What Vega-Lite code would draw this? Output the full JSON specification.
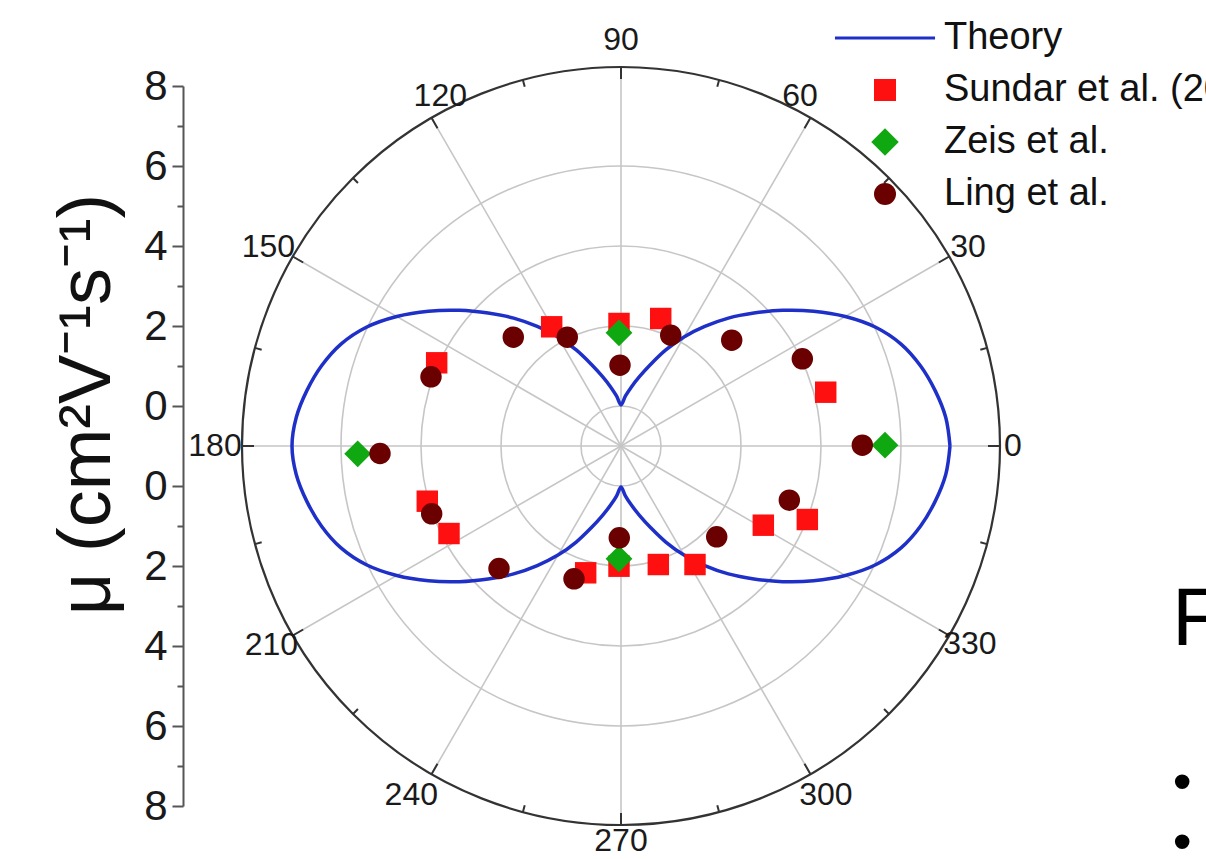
{
  "$schema": "https://vega.github.io/schema/vega-lite/v6.json",
  "width": 876,
  "height": 720,
  "autosize": {"type": "none"},
  "padding": {"left": 183, "top": 86, "right": 147, "bottom": 53},
  "background": "white",
  "config": {"view": {"stroke": null}, "font": "Liberation Sans"},
  "datasets": {
    "grid": [{"r": 1}, {"r": 3}, {"r": 5}, {"r": 7}],
    "outer": [{"r": 9.475}],
    "spokes": [
      {"angle": 0, "r": 9.475}, {"angle": 30, "r": 9.475}, {"angle": 60, "r": 9.475}, {"angle": 90, "r": 9.475},
      {"angle": 120, "r": 9.475}, {"angle": 150, "r": 9.475}, {"angle": 180, "r": 9.475}, {"angle": 210, "r": 9.475},
      {"angle": 240, "r": 9.475}, {"angle": 270, "r": 9.475}, {"angle": 300, "r": 9.475}, {"angle": 330, "r": 9.475}
    ],
    "ticks": [
      {"angle": 0, "r": 9.475, "r0": 9.175}, {"angle": 30, "r": 9.475, "r0": 9.175}, {"angle": 60, "r": 9.475, "r0": 9.175},
      {"angle": 90, "r": 9.475, "r0": 9.175}, {"angle": 120, "r": 9.475, "r0": 9.175}, {"angle": 150, "r": 9.475, "r0": 9.175},
      {"angle": 180, "r": 9.475, "r0": 9.175}, {"angle": 210, "r": 9.475, "r0": 9.175}, {"angle": 240, "r": 9.475, "r0": 9.175},
      {"angle": 270, "r": 9.475, "r0": 9.175}, {"angle": 300, "r": 9.475, "r0": 9.175}, {"angle": 330, "r": 9.475, "r0": 9.175},
      {"angle": 15, "r": 9.475, "r0": 9.3}, {"angle": 45, "r": 9.475, "r0": 9.3}, {"angle": 75, "r": 9.475, "r0": 9.3},
      {"angle": 105, "r": 9.475, "r0": 9.3}, {"angle": 135, "r": 9.475, "r0": 9.3}, {"angle": 165, "r": 9.475, "r0": 9.3},
      {"angle": 195, "r": 9.475, "r0": 9.3}, {"angle": 225, "r": 9.475, "r0": 9.3}, {"angle": 255, "r": 9.475, "r0": 9.3},
      {"angle": 285, "r": 9.475, "r0": 9.3}, {"angle": 315, "r": 9.475, "r0": 9.3}, {"angle": 345, "r": 9.475, "r0": 9.3}
    ],
    "labels": [
      {"pos": 0, "r": 9.8, "label": "0"}, {"pos": 29.8, "r": 10.0, "label": "30"}, {"pos": 62.9, "r": 9.83, "label": "60"},
      {"pos": 90, "r": 10.15, "label": "90"}, {"pos": 117.3, "r": 9.85, "label": "120"}, {"pos": 150.6, "r": 10.12, "label": "150"},
      {"pos": 180, "r": 10.15, "label": "180"}, {"pos": 209.6, "r": 10.05, "label": "210"}, {"pos": 239.0, "r": 10.18, "label": "240"},
      {"pos": 270, "r": 9.88, "label": "270"}, {"pos": 300.4, "r": 10.12, "label": "300"}, {"pos": 330.4, "r": 10.03, "label": "330"}
    ],
    "theory": [
      {"series": "Theory", "step": 0, "x": 8.225, "y": 0},
      {"series": "Theory", "step": 5, "x": 8.119, "y": 0.711},
      {"series": "Theory", "step": 10, "x": 7.854, "y": 1.384},
      {"series": "Theory", "step": 15, "x": 7.486, "y": 2.006},
      {"series": "Theory", "step": 20, "x": 7.001, "y": 2.548},
      {"series": "Theory", "step": 25, "x": 6.367, "y": 2.969},
      {"series": "Theory", "step": 30, "x": 5.607, "y": 3.238},
      {"series": "Theory", "step": 35, "x": 4.813, "y": 3.37},
      {"series": "Theory", "step": 40, "x": 4.041, "y": 3.391},
      {"series": "Theory", "step": 45, "x": 3.323, "y": 3.323},
      {"series": "Theory", "step": 50, "x": 2.684, "y": 3.198},
      {"series": "Theory", "step": 55, "x": 2.094, "y": 2.99},
      {"series": "Theory", "step": 60, "x": 1.575, "y": 2.728},
      {"series": "Theory", "step": 65, "x": 1.12, "y": 2.402},
      {"series": "Theory", "step": 70, "x": 0.744, "y": 2.044},
      {"series": "Theory", "step": 75, "x": 0.466, "y": 1.739},
      {"series": "Theory", "step": 80, "x": 0.26, "y": 1.477},
      {"series": "Theory", "step": 85, "x": 0.109, "y": 1.245},
      {"series": "Theory", "step": 90, "x": 0, "y": 1.025},
      {"series": "Theory", "step": 95, "x": -0.109, "y": 1.245},
      {"series": "Theory", "step": 100, "x": -0.26, "y": 1.477},
      {"series": "Theory", "step": 105, "x": -0.466, "y": 1.739},
      {"series": "Theory", "step": 110, "x": -0.744, "y": 2.044},
      {"series": "Theory", "step": 115, "x": -1.12, "y": 2.402},
      {"series": "Theory", "step": 120, "x": -1.575, "y": 2.728},
      {"series": "Theory", "step": 125, "x": -2.094, "y": 2.99},
      {"series": "Theory", "step": 130, "x": -2.684, "y": 3.198},
      {"series": "Theory", "step": 135, "x": -3.323, "y": 3.323},
      {"series": "Theory", "step": 140, "x": -4.041, "y": 3.391},
      {"series": "Theory", "step": 145, "x": -4.813, "y": 3.37},
      {"series": "Theory", "step": 150, "x": -5.607, "y": 3.238},
      {"series": "Theory", "step": 155, "x": -6.367, "y": 2.969},
      {"series": "Theory", "step": 160, "x": -7.001, "y": 2.548},
      {"series": "Theory", "step": 165, "x": -7.486, "y": 2.006},
      {"series": "Theory", "step": 170, "x": -7.854, "y": 1.384},
      {"series": "Theory", "step": 175, "x": -8.119, "y": 0.711},
      {"series": "Theory", "step": 180, "x": -8.225, "y": 0},
      {"series": "Theory", "step": 185, "x": -8.119, "y": -0.711},
      {"series": "Theory", "step": 190, "x": -7.854, "y": -1.384},
      {"series": "Theory", "step": 195, "x": -7.486, "y": -2.006},
      {"series": "Theory", "step": 200, "x": -7.001, "y": -2.548},
      {"series": "Theory", "step": 205, "x": -6.367, "y": -2.969},
      {"series": "Theory", "step": 210, "x": -5.607, "y": -3.238},
      {"series": "Theory", "step": 215, "x": -4.813, "y": -3.37},
      {"series": "Theory", "step": 220, "x": -4.041, "y": -3.391},
      {"series": "Theory", "step": 225, "x": -3.323, "y": -3.323},
      {"series": "Theory", "step": 230, "x": -2.684, "y": -3.198},
      {"series": "Theory", "step": 235, "x": -2.094, "y": -2.99},
      {"series": "Theory", "step": 240, "x": -1.575, "y": -2.728},
      {"series": "Theory", "step": 245, "x": -1.12, "y": -2.402},
      {"series": "Theory", "step": 250, "x": -0.744, "y": -2.044},
      {"series": "Theory", "step": 255, "x": -0.466, "y": -1.739},
      {"series": "Theory", "step": 260, "x": -0.26, "y": -1.477},
      {"series": "Theory", "step": 265, "x": -0.109, "y": -1.245},
      {"series": "Theory", "step": 270, "x": 0, "y": -1.025},
      {"series": "Theory", "step": 275, "x": 0.109, "y": -1.245},
      {"series": "Theory", "step": 280, "x": 0.26, "y": -1.477},
      {"series": "Theory", "step": 285, "x": 0.466, "y": -1.739},
      {"series": "Theory", "step": 290, "x": 0.744, "y": -2.044},
      {"series": "Theory", "step": 295, "x": 1.12, "y": -2.402},
      {"series": "Theory", "step": 300, "x": 1.575, "y": -2.728},
      {"series": "Theory", "step": 305, "x": 2.094, "y": -2.99},
      {"series": "Theory", "step": 310, "x": 2.684, "y": -3.198},
      {"series": "Theory", "step": 315, "x": 3.323, "y": -3.323},
      {"series": "Theory", "step": 320, "x": 4.041, "y": -3.391},
      {"series": "Theory", "step": 325, "x": 4.813, "y": -3.37},
      {"series": "Theory", "step": 330, "x": 5.607, "y": -3.238},
      {"series": "Theory", "step": 335, "x": 6.367, "y": -2.969},
      {"series": "Theory", "step": 340, "x": 7.001, "y": -2.548},
      {"series": "Theory", "step": 345, "x": 7.486, "y": -2.006},
      {"series": "Theory", "step": 350, "x": 7.854, "y": -1.384},
      {"series": "Theory", "step": 355, "x": 8.119, "y": -0.711},
      {"series": "Theory", "step": 360, "x": 8.225, "y": 0}
    ],
    "points": [
      {"series": "Sundar et al. (2004)", "x": -4.608, "y": 2.08},
      {"series": "Sundar et al. (2004)", "x": -1.733, "y": 2.98},
      {"series": "Sundar et al. (2004)", "x": -0.05, "y": 3.063},
      {"series": "Sundar et al. (2004)", "x": 0.993, "y": 3.188},
      {"series": "Sundar et al. (2004)", "x": 5.118, "y": 1.345},
      {"series": "Sundar et al. (2004)", "x": 4.658, "y": -1.838},
      {"series": "Sundar et al. (2004)", "x": 3.558, "y": -1.98},
      {"series": "Sundar et al. (2004)", "x": 1.85, "y": -2.963},
      {"series": "Sundar et al. (2004)", "x": 0.933, "y": -2.963},
      {"series": "Sundar et al. (2004)", "x": -0.05, "y": -3.005},
      {"series": "Sundar et al. (2004)", "x": -0.883, "y": -3.17},
      {"series": "Sundar et al. (2004)", "x": -4.3, "y": -2.188},
      {"series": "Sundar et al. (2004)", "x": -4.843, "y": -1.38},
      {"series": "Zeis et al.", "x": -0.05, "y": 2.83},
      {"series": "Zeis et al.", "x": 6.6, "y": 0.02},
      {"series": "Zeis et al.", "x": -0.05, "y": -2.82},
      {"series": "Zeis et al.", "x": -6.583, "y": -0.195},
      {"series": "Ling et al.", "x": -4.75, "y": 1.73},
      {"series": "Ling et al.", "x": -2.693, "y": 2.72},
      {"series": "Ling et al.", "x": -1.343, "y": 2.72},
      {"series": "Ling et al.", "x": -0.025, "y": 2.02},
      {"series": "Ling et al.", "x": 1.243, "y": 2.77},
      {"series": "Ling et al.", "x": 2.768, "y": 2.645},
      {"series": "Ling et al.", "x": 4.533, "y": 2.18},
      {"series": "Ling et al.", "x": 6.033, "y": 0.02},
      {"series": "Ling et al.", "x": 4.208, "y": -1.355},
      {"series": "Ling et al.", "x": 2.393, "y": -2.27},
      {"series": "Ling et al.", "x": -0.043, "y": -2.295},
      {"series": "Ling et al.", "x": -1.175, "y": -3.32},
      {"series": "Ling et al.", "x": -3.05, "y": -3.063},
      {"series": "Ling et al.", "x": -4.733, "y": -1.695},
      {"series": "Ling et al.", "x": -6.025, "y": -0.188}
    ],
    "heading": [{"x": 13.775, "y": -4.34, "text": "F"}],
    "bullets": [{"x": 14.03, "y": -8.46, "text": "•"}, {"x": 14.03, "y": -9.96, "text": "•"}]
  },
  "layer": [
    {
      "data": {"name": "grid"},
      "mark": {"type": "arc", "theta": 0, "theta2": 6.2832, "filled": false, "color": "#c6c6c6", "stroke": "#c6c6c6", "strokeWidth": 1.6},
      "encoding": {
        "radius": {"field": "r", "type": "quantitative", "stack": null, "scale": {"type": "linear", "domain": [0, 10], "range": [0, 400], "zero": true, "nice": false}}
      }
    },
    {
      "data": {"name": "spokes"},
      "mark": {"type": "arc", "filled": false, "color": "#c6c6c6", "stroke": "#c6c6c6", "strokeWidth": 1.6},
      "encoding": {
        "theta": {"field": "angle", "type": "quantitative", "stack": null, "scale": {"domain": [0, 360], "range": [1.5707963, -4.712389], "nice": false, "zero": false}},
        "theta2": {"field": "angle"},
        "radius": {"field": "r", "type": "quantitative", "stack": null}
      }
    },
    {
      "data": {"name": "outer"},
      "mark": {"type": "arc", "theta": 0, "theta2": 6.2832, "filled": false, "color": "#333333", "stroke": "#333333", "strokeWidth": 2.2},
      "encoding": {
        "radius": {"field": "r", "type": "quantitative", "stack": null}
      }
    },
    {
      "data": {"name": "ticks"},
      "mark": {"type": "arc", "filled": false, "color": "#333333", "stroke": "#333333", "strokeWidth": 2},
      "encoding": {
        "theta": {"field": "angle", "type": "quantitative", "stack": null},
        "theta2": {"field": "angle"},
        "radius": {"field": "r", "type": "quantitative", "stack": null},
        "radius2": {"field": "r0"}
      }
    },
    {
      "data": {"name": "labels"},
      "mark": {"type": "text", "fontSize": 32, "font": "Liberation Sans", "color": "#1a1a1a", "align": "center", "baseline": "middle"},
      "encoding": {
        "theta": {"field": "pos", "type": "quantitative", "stack": null},
        "radius": {"field": "r", "type": "quantitative", "stack": null},
        "text": {"field": "label"}
      }
    },
    {
      "data": {"name": "theory"},
      "mark": {"type": "line", "strokeWidth": 3.5, "clip": false, "interpolate": "catmull-rom"},
      "encoding": {
        "x": {"field": "x", "type": "quantitative", "scale": {"domain": [-10.95, 10.95], "nice": false, "zero": false}, "axis": null},
        "y": {
          "field": "y", "type": "quantitative",
          "scale": {"domain": [-9, 9], "nice": false, "zero": false},
          "axis": {
            "orient": "left",
            "values": [-9, -8, -7, -6, -5, -4, -3, -2, -1, 1, 2, 3, 4, 5, 6, 7, 8, 9],
            "labelExpr": "abs(datum.value) % 2 == 1 ? '' + (abs(datum.value) - 1) : ''",
            "labelFontSize": 42,
            "labelFont": "Liberation Sans",
            "labelColor": "#1a1a1a",
            "labelPadding": 5,
            "labelFlush": false,
            "labelOverlap": false,
            "labelBound": false,
            "tickSize": {"condition": {"test": "abs(datum.value) % 2 == 1", "value": 11}, "value": 6},
            "tickColor": "#555555",
            "tickWidth": 2,
            "domainColor": "#555555",
            "domainWidth": 2,
            "grid": false,
            "title": "μ (cm²V⁻¹s⁻¹)",
            "titleFontSize": 74,
            "titleFont": "Liberation Sans",
            "titleFontWeight": "normal",
            "titleColor": "#111111",
            "titleAngle": -90,
            "titleX": -74,
            "titleY": 318,
            "titleBaseline": "alphabetic",
            "titleAlign": "center"
          }
        },
        "order": {"field": "step", "type": "quantitative"},
        "color": {
          "field": "series", "type": "nominal",
          "scale": {"domain": ["Theory", "Sundar et al. (2004)", "Zeis et al.", "Ling et al."], "range": ["#1f30c8", "#ff1010", "#10a810", "#6a0000"]},
          "legend": {
            "title": null, "orient": "none", "legendX": 683, "legendY": -67, "padding": 0,
            "labelFontSize": 38, "labelFont": "Liberation Sans", "labelColor": "#111111", "labelLimit": 0, "labelOffset": 40,
            "symbolSize": 484, "rowPadding": 14, "symbolStrokeWidth": 0, "symbolOpacity": 1,
            "encode": {"symbols": {"update": {"fill": {"scale": "color", "field": "value"}, "stroke": {"value": "transparent"}, "shape": {"scale": "shape", "field": "value"}, "opacity": {"value": 1}}}}
          }
        }
      }
    },
    {
      "data": {"name": "points"},
      "mark": {"type": "point", "filled": true, "opacity": 1, "size": 460, "clip": false},
      "encoding": {
        "x": {"field": "x", "type": "quantitative"},
        "y": {"field": "y", "type": "quantitative"},
        "color": {"field": "series", "type": "nominal"},
        "shape": {
          "field": "series", "type": "nominal",
          "scale": {"domain": ["Theory", "Sundar et al. (2004)", "Zeis et al.", "Ling et al."], "range": ["M-4.55,-0.14H4.55V0.14H-4.55Z", "square", "M-1.25,0L0,-1.25L1.25,0L0,1.25Z", "circle"]},
          "legend": {
            "title": null, "orient": "none", "legendX": 683, "legendY": -67, "padding": 0,
            "labelFontSize": 38, "labelFont": "Liberation Sans", "labelColor": "#111111", "labelLimit": 0, "labelOffset": 40,
            "symbolSize": 484, "rowPadding": 14, "symbolStrokeWidth": 0, "symbolOpacity": 1
          }
        }
      }
    },
    {
      "data": {"name": "heading"},
      "mark": {"type": "text", "fontSize": 82, "font": "Liberation Sans", "color": "#000000", "align": "left", "baseline": "middle", "clip": false},
      "encoding": {
        "x": {"field": "x", "type": "quantitative"},
        "y": {"field": "y", "type": "quantitative"},
        "text": {"field": "text"}
      }
    },
    {
      "data": {"name": "bullets"},
      "mark": {"type": "text", "fontSize": 54, "font": "Liberation Sans", "color": "#000000", "align": "center", "baseline": "middle", "clip": false},
      "encoding": {
        "x": {"field": "x", "type": "quantitative"},
        "y": {"field": "y", "type": "quantitative"},
        "text": {"field": "text"}
      }
    }
  ]
}
